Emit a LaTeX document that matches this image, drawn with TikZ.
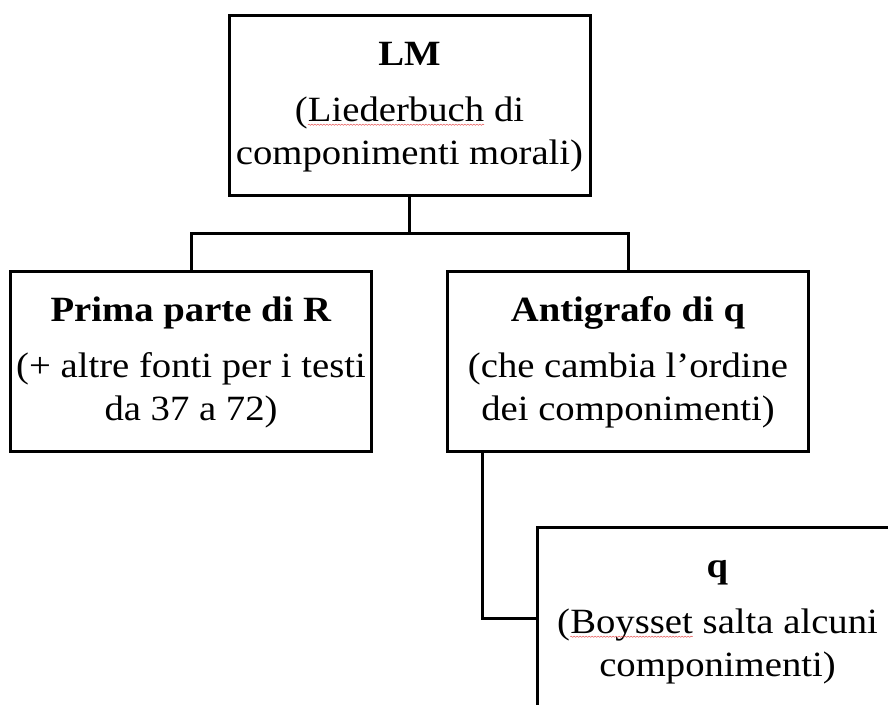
\documentclass[tikz,border=0pt]{standalone}
\usepackage{fontspec}
\setmainfont{Liberation Serif}[FakeStretch=1.09]
\usetikzlibrary{decorations.pathmorphing}
\definecolor{spellred}{RGB}{230,90,90}
\newcommand{\capstrut}{\rule{0pt}{25pt}}
\newcommand{\spellmark}[1]{\tikz[baseline=(sw.base)]{\node[inner sep=0pt,outer sep=0pt,minimum width=0pt,minimum height=0pt,draw=none,font={},align=left] (sw) {#1};
  \draw[spellred, line width=0.5pt, decorate, decoration={snake, amplitude=0.6pt, segment length=3pt}] ([yshift=-3.5pt]sw.base west) -- ([yshift=-3.5pt]sw.base east);}}
\begin{document}
\begin{tikzpicture}[x=1pt,y=1pt,
  box/.style={draw=black, line width=3pt, minimum width=361pt, minimum height=180pt,
    inner sep=0pt, align=center, font=\fontsize{35.5pt}{43pt}\selectfont},
  link/.style={draw=black, line width=3pt}]
\useasboundingbox (0,0) rectangle (888,704);
\clip (0,0) rectangle (888,704);
\node[box] (top) at (409.5,598) {\capstrut\textbf{LM}\\[13pt](\spellmark{Liederbuch} di\\componimenti morali)};
\node[box] (left) at (191,342) {\capstrut\textbf{Prima parte di R}\\[13pt](+ altre fonti per i testi\\da 37 a 72)};
\node[box] (right) at (628,342) {\capstrut\textbf{Antigrafo di q}\\[13pt](che cambia l’ordine\\dei componimenti)};
\node[box] (bottom) at (717.5,86) {\capstrut\textbf{q}\\[13pt](\spellmark{Boysset} salta alcuni\\componimenti)};
\coordinate (bus) at (0,470);
\coordinate (tap) at ([xshift=36pt]right.south west);
\draw[link] (top.south) -- (top.south |- bus);
\draw[link] (left.north) -- (left.north |- bus) -| (right.north);
\draw[link] (tap) |- (bottom.west);
\end{tikzpicture}
\end{document}
